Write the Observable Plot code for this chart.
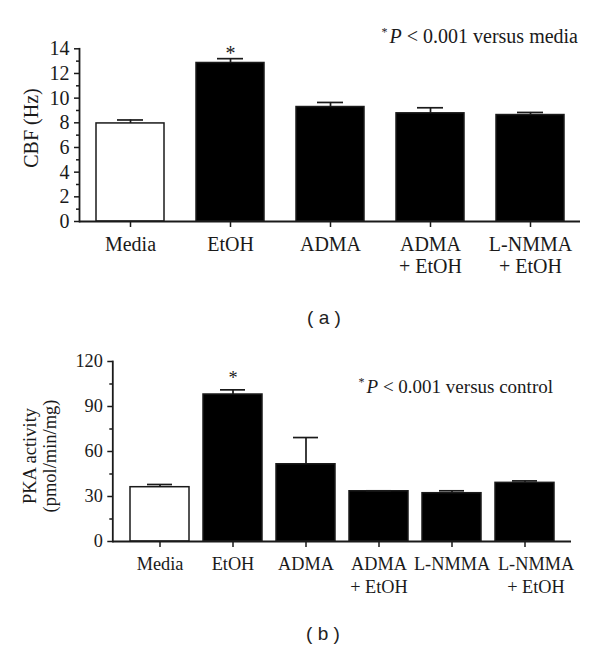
<!DOCTYPE html>
<html><head><meta charset="utf-8">
<script src="https://cdn.jsdelivr.net/npm/d3@7"></script>
<script src="https://cdn.jsdelivr.net/npm/@observablehq/plot@0.6"></script>
<style>
body{margin:0;background:#fff;}
#wrap{position:relative;width:600px;height:649px;overflow:hidden;font-family:"Liberation Serif","Times New Roman",serif;color:#1a1a1a;background:#fff}
.panel{position:absolute;left:0}
.note{position:absolute;white-space:nowrap}
.note sup{font-size:12px;vertical-align:0;position:relative;top:-7px;margin-right:2px}
.cap{position:absolute;font-family:"Liberation Sans",Arial,sans-serif;font-size:19px;line-height:19px;transform:translate(-50%,-50%);white-space:pre;color:#222}
.ylab{position:absolute;transform:translate(-50%,-50%) rotate(-90deg);white-space:nowrap;text-align:center}
</style></head>
<body><div id="wrap">
<div id="pa" class="panel" style="top:0px"></div>
<div id="pb" class="panel" style="top:330px"></div>
<div class="note" style="right:22px;top:26px;font-size:20px;line-height:20px"><sup>*</sup><i>P</i> &lt; 0.001 versus media</div>
<div class="note" style="right:47px;top:377px;font-size:19px;line-height:19px"><sup>*</sup><i>P</i> &lt; 0.001 versus control</div>
<div class="ylab" style="left:31px;top:128px;font-size:20px">CBF (Hz)</div>
<div class="ylab" style="left:40px;top:456px;font-size:18.5px;line-height:20px">PKA activity<br>(pmol/min/mg)</div>
<div class="cap" style="left:324px;top:317px">( a )</div>
<div class="cap" style="left:323px;top:633px">( b )</div>
</div>
<script>
// Panel (a): ciliary beat frequency
const catsA = ["Media", "EtOH", "ADMA", "ADMA\n+ EtOH", "L-NMMA\n+ EtOH"];
const cbfMean = [7.95, 12.85, 9.28, 8.77, 8.63];
const cbfSem = [0.28, 0.35, 0.37, 0.45, 0.21];
const sigA = ["EtOH"];
const ticksA = [0, 2, 4, 6, 8, 10, 12, 14];
const minorA = [1, 3, 5, 7, 9, 11, 13];

// Panel (b): PKA activity
const catsB = ["Media", "EtOH", "ADMA", "ADMA\n+ EtOH", "L-NMMA", "L-NMMA\n+ EtOH"];
const pkaMean = [36.2, 98.0, 51.5, 33.5, 32.2, 39.1];
const pkaSem = [1.8, 3.1, 17.8, 0.3, 1.6, 1.3];
const sigB = ["EtOH"];
const ticksB = [0, 30, 60, 90, 120];
const minorB = [15, 45, 75, 105];

const ink = "#1a1a1a";

function panel(o) {
  const data = o.cats.map((c, i) => ({cat: c, mean: o.mean[i], top: o.mean[i] + o.sem[i]}));
  const sig = data.filter(d => o.sig.includes(d.cat));
  const nLab = o.cats.length - o.shiftLast;
  return Plot.plot({
    width: 600, height: o.height,
    marginTop: o.mt, marginBottom: o.mb, marginLeft: o.ml, marginRight: o.mr,
    style: {fontFamily: "Liberation Serif, Times New Roman, serif", fontSize: o.fs + "px", color: ink, background: "white", overflow: "visible"},
    x: {domain: o.cats, paddingInner: o.pi, paddingOuter: o.po, axis: null},
    y: {domain: o.yDomain, axis: null},
    color: {type: "identity"},
    marks: [
      Plot.barY(data, {x: "cat", y: "mean", fill: d => d.cat === "Media" ? "white" : "black", stroke: ink, strokeWidth: 1.5}),
      Plot.ruleX(data, {x: "cat", y1: "mean", y2: "top", stroke: ink, strokeWidth: 1.7}),
      Plot.tickY(data, {x: "cat", y: "top", insetLeft: o.capInset, insetRight: o.capInset, stroke: ink, strokeWidth: 1.7}),
      Plot.text(sig, {x: "cat", y: "top", text: () => "*", dy: o.starDy, fontSize: o.fs, fill: ink}),
      Plot.axisY({ticks: o.ticks, tickSize: 5, tickPadding: 5, fontSize: o.fs, label: null, strokeWidth: 1.5}),
      Plot.axisY({ticks: o.minor, tickSize: 3, tickFormat: () => "", label: null, strokeWidth: 1.5}),
      Plot.axisX({tickSize: 6, tickFormat: () => "", label: null, strokeWidth: 1.5}),
      Plot.text(o.cats.slice(0, nLab), {x: d => d, text: d => d, frameAnchor: "bottom", lineAnchor: "top", dy: o.labDy, fontSize: o.fs, lineHeight: o.lh, fill: ink}),
      Plot.text(o.cats.slice(nLab), {x: d => d, text: d => d, frameAnchor: "bottom", lineAnchor: "top", dy: o.labDy, dx: 11, fontSize: o.fs, lineHeight: o.lh, fill: ink}),
      Plot.ruleY([0], {stroke: ink, strokeWidth: 1.8}),
      Plot.frame({anchor: "left", stroke: ink, strokeWidth: 1.8})
    ]
  });
}

document.getElementById("pa").append(panel({
  cats: catsA, mean: cbfMean, sem: cbfSem, sig: sigA, yDomain: [0, 14], ticks: ticksA, minor: minorA,
  height: 300, mt: 48.3, mb: 79, ml: 79, mr: 20, pi: 0.325, po: 0.16, capInset: 21,
  fs: 20, lh: 1.1, labDy: 14, starDy: -5, shiftLast: 0
}));
document.getElementById("pb").append(panel({
  cats: catsB, mean: pkaMean, sem: pkaSem, sig: sigB, yDomain: [0, 120], ticks: ticksB, minor: minorB,
  height: 290, mt: 31, mb: 79, ml: 112.3, mr: 29, pi: 0.195, po: 0.21, capInset: 17,
  fs: 18.3, lh: 1.27, labDy: 12, starDy: -12, shiftLast: 1
}));
</script>
</body></html>
